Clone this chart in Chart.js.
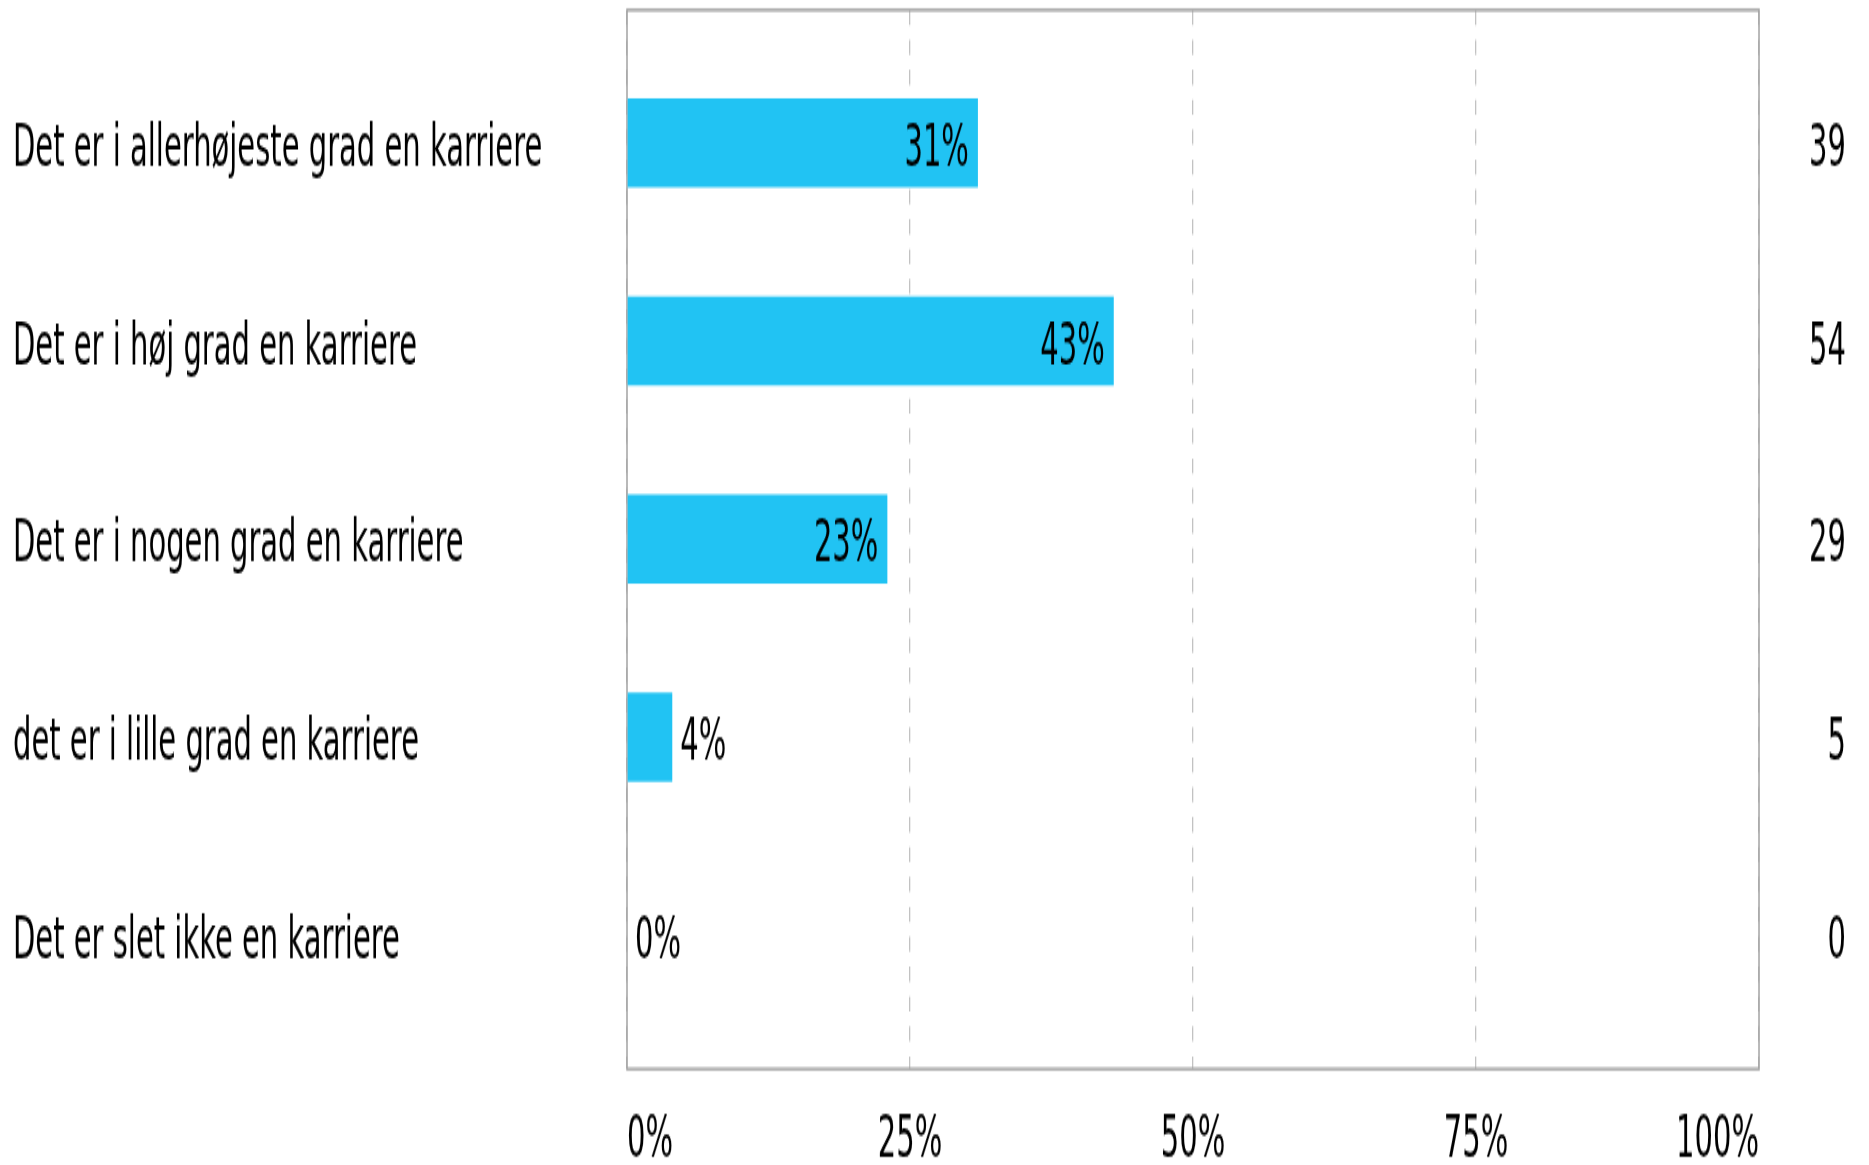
<!DOCTYPE html>
<html>
<head>
  <title>Karriere</title>
  <script src="https://cdn.jsdelivr.net/npm/chart.js"></script>
</head>
<body style="margin:0;background:#fff;">
  <!-- the canvas is drawn short and stretched tall, giving the narrow tall lettering -->
  <div style="width:1869px;height:1165px;overflow:hidden;">
    <div style="width:1869px;height:569px;transform:scaleY(2.0475);transform-origin:0 0;">
      <canvas id="chart" width="1869" height="569"></canvas>
    </div>
  </div>

  <script>
    const categories = [
      "Det er i allerhøjeste grad en karriere",
      "Det er i høj grad en karriere",
      "Det er i nogen grad en karriere",
      "det er i lille grad en karriere",
      "Det er slet ikke en karriere"
    ];
    const percents = [31, 43, 23, 4, 0];
    const counts = [39, 54, 29, 5, 0];
    const xTicks = [0, 25, 50, 75, 100];

    const FONT = "'DejaVu Sans', sans-serif";
    const SIZE = 29;
    const TEXT_DROP = 3.5; // pull text down so the capitals sit centred on the row
    Chart.defaults.font.family = FONT;
    Chart.defaults.font.size = SIZE;
    Chart.defaults.color = "#000";

    // scales keep a fixed size, no extra padding for overhanging labels
    const noPad = (scale) => {
      scale.paddingTop = scale.paddingBottom = scale.paddingLeft = scale.paddingRight = 0;
    };
    const rowTicks = (scale) => {
      scale.ticks = categories.map((_, i) => ({ value: i }));
    };

    // grey box round the plot area
    const frame = {
      id: "frame",
      beforeDatasetsDraw(chart) {
        const { ctx, chartArea: a } = chart;
        ctx.save();
        ctx.strokeStyle = "#a3a3a3";
        ctx.lineWidth = 1.5;
        ctx.strokeRect(a.left, a.top, a.right - a.left, a.bottom - a.top);
        ctx.restore();
      }
    };

    // percent text: inside the bar end when it fits, otherwise just after it
    const valueLabels = {
      id: "valueLabels",
      afterDatasetsDraw(chart) {
        const ctx = chart.ctx;
        const meta = chart.getDatasetMeta(0);
        ctx.save();
        ctx.font = SIZE + "px " + FONT;
        ctx.fillStyle = "#000";
        ctx.textBaseline = "middle";
        meta.data.forEach((bar, i) => {
          const text = percents[i] + "%";
          const w = ctx.measureText(text).width;
          if (bar.x - bar.base > w + 18) {
            ctx.textAlign = "right";
            ctx.fillText(text, bar.x - 9, bar.y + TEXT_DROP);
          } else {
            ctx.textAlign = "left";
            ctx.fillText(text, bar.x + 8, bar.y + TEXT_DROP);
          }
        });
        ctx.restore();
      }
    };

    const yMin = -0.672, yMax = 4.677;

    new Chart(document.getElementById("chart"), {
      type: "bar",
      data: {
        datasets: [{
          data: percents.map((v, i) => ({ x: v, y: i })),
          backgroundColor: "#21c3f3",
          borderWidth: 0,
          inflateAmount: 0,
          barThickness: 43.5,
          xAxisID: "x",
          yAxisID: "y"
        }]
      },
      options: {
        indexAxis: "y",
        responsive: false,
        animation: false,
        devicePixelRatio: 1,
        layout: { padding: { top: 4.88, left: 13, right: 23, bottom: 0 } },
        plugins: { legend: { display: false }, tooltip: { enabled: false } },
        scales: {
          x: {
            type: "linear",
            min: 0,
            max: 100,
            offset: false,
            afterBuildTicks: (scale) => { scale.ticks = xTicks.map(v => ({ value: v })); },
            ticks: {
              align: "inner",
              padding: 18,
              maxRotation: 0,
              autoSkip: false,
              font: { size: SIZE, lineHeight: 1.2 },
              callback: (v) => v + "%"
            },
            grid: { color: "#c2c2c2", lineWidth: 1.3, drawTicks: false },
            border: { display: false, dash: [7.3, 7.3] },
            afterFit: (scale) => { scale.height = 46.9; noPad(scale); }
          },
          y: {
            type: "linear",
            reverse: true,
            offset: false,
            min: yMin,
            max: yMax,
            afterBuildTicks: rowTicks,
            ticks: {
              crossAlign: "far",
              autoSkip: false,
              labelOffset: TEXT_DROP,
              callback: (v) => categories[v]
            },
            grid: { display: false },
            border: { display: false },
            afterFit: (scale) => { scale.width = 614; noPad(scale); }
          },
          y2: {
            type: "linear",
            position: "right",
            reverse: true,
            offset: false,
            min: yMin,
            max: yMax,
            afterBuildTicks: rowTicks,
            ticks: {
              crossAlign: "far",
              autoSkip: false,
              labelOffset: TEXT_DROP,
              callback: (v) => counts[v]
            },
            grid: { display: false },
            border: { display: false },
            afterFit: (scale) => { scale.width = 87; noPad(scale); }
          }
        }
      },
      plugins: [frame, valueLabels]
    });
  </script>
</body>
</html>
